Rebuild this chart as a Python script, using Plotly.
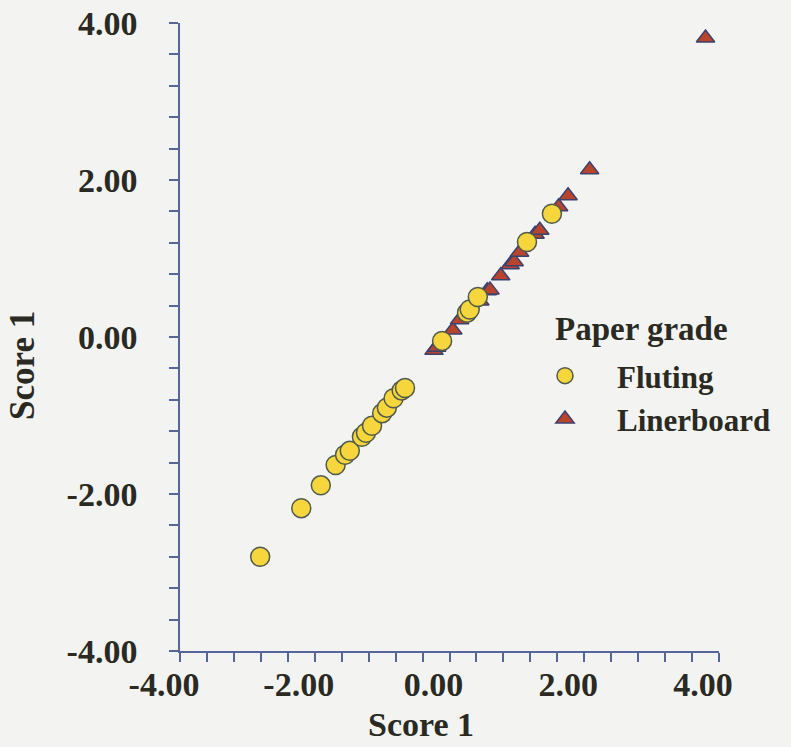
import plotly.graph_objects as go

# ---- data ----
fluting_x = [-2.81, -2.20, -1.91, -1.69, -1.55, -1.48, -1.30, -1.24, -1.15, -1.00,
             -0.93, -0.83, -0.71, -0.66, -0.11, 0.26, 0.30, 0.42, 1.15, 1.52]
fluting_y = [-2.80, -2.18, -1.89, -1.63, -1.50, -1.45, -1.27, -1.22, -1.13, -0.97,
             -0.90, -0.78, -0.68, -0.65, -0.05, 0.31, 0.35, 0.51, 1.21, 1.57]

liner_x = [-0.23, -0.19, 0.05, 0.15, 0.45, 0.56, 0.60, 0.76, 0.90, 0.96,
           1.04, 1.27, 1.34, 1.62, 1.76, 2.08, 3.80]
liner_y = [-0.17, -0.13, 0.09, 0.22, 0.46, 0.59, 0.60, 0.78, 0.92, 0.96,
           1.08, 1.31, 1.36, 1.66, 1.80, 2.13, 3.81]

tick_vals = [-4, -2, 0, 2, 4]
tick_text = ["-4.00", "-2.00", "0.00", "2.00", "4.00"]

series_names = ["Fluting", "Linerboard"]
legend_title = "Paper grade"
axis_title = "Score 1"

# ---- styles ----
FONT = "Liberation Serif"
TXT = "#2a2a22"
AX = "#56659a"
BG = "#f3f4f2"
W, H = 791, 747
L, R, T, B = 180, 72, 23, 96
PW, PH = W - L - R, H - T - B


def px_x(p):
    return (p - L) / PW


def px_y(p):
    return (H - B - p) / PH


fig = go.Figure()
fig.add_trace(go.Scatter(
    x=liner_x, y=liner_y, mode="markers", name=series_names[1], legendrank=2,
    marker=dict(symbol="triangle-up", size=16, color="#b7442b",
                line=dict(color="#3c4270", width=1.5)),
))
fig.add_trace(go.Scatter(
    x=fluting_x, y=fluting_y, mode="markers", name=series_names[0], legendrank=1,
    marker=dict(symbol="circle", size=19, color="#f6d63c",
                line=dict(color="#4f5a4c", width=1.5)),
))

axis_common = dict(
    range=[-4, 4], tickmode="array", tickvals=tick_vals, ticktext=tick_text,
    ticks="outside", ticklen=9, tickwidth=1.5, tickcolor=AX,
    minor=dict(tickmode="linear", tick0=-4, dtick=0.4, ticks="outside",
               ticklen=9, tickwidth=1.5, tickcolor=AX, showgrid=False),
    showline=True, linecolor=AX, linewidth=1.5, showgrid=False, zeroline=False,
    automargin=False,
    tickfont=dict(family=FONT, size=34, color=TXT, weight="bold"),
)

try:
    xaxis = go.layout.XAxis(**axis_common, ticklabelshift=-16, ticklabelstandoff=-7)
except ValueError:
    xaxis = go.layout.XAxis(**axis_common, ticklabelshift=-16, ticklabelstandoff=0)

fig.update_layout(
    width=W, height=H, autosize=False,
    margin=dict(l=L, r=R, t=T, b=B),
    paper_bgcolor=BG, plot_bgcolor=BG,
    xaxis=xaxis,
    yaxis=dict(**axis_common, ticklabelstandoff=25),
    showlegend=True,
    legend=dict(x=px_x(513), xanchor="left", y=px_y(349), yanchor="top",
                bgcolor="rgba(0,0,0,0)", itemwidth=94, tracegroupgap=0,
                font=dict(family=FONT, size=31, color=TXT, weight="bold")),
    annotations=[
        dict(text=axis_title, xref="paper", yref="paper", x=px_x(421), y=px_y(724),
             showarrow=False, xanchor="center", yanchor="middle",
             font=dict(family=FONT, size=34, color=TXT, weight="bold")),
        dict(text=axis_title, xref="paper", yref="paper", x=px_x(22), y=px_y(366),
             showarrow=False, xanchor="center", yanchor="middle", textangle=-90,
             font=dict(family=FONT, size=35, color=TXT, weight="bold")),
        dict(text=legend_title, xref="paper", yref="paper", x=px_x(553), y=px_y(329),
             showarrow=False, xanchor="left", yanchor="middle",
             font=dict(family=FONT, size=33, color=TXT, weight="bold")),
    ],
)

fig.write_html("out.html")
